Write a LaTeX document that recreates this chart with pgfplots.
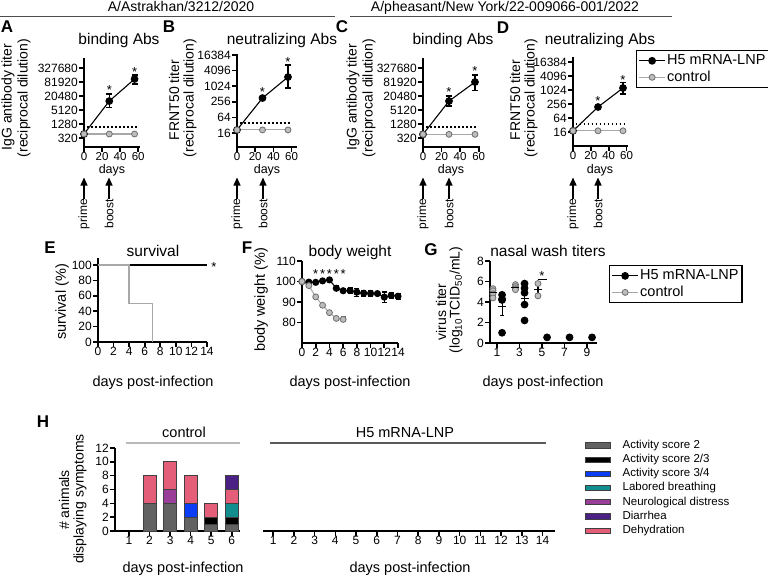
\documentclass[border=0pt]{standalone}
\usepackage{fontspec}
\setmainfont{Liberation Sans}
\usepackage{pgfplots}
\pgfplotsset{compat=1.18}
\usetikzlibrary{arrows.meta}

\newcommand\fs[1]{\fontsize{#1}{#1}\selectfont}

\definecolor{ctrlline}{HTML}{A8A8A8}
\definecolor{ctrlfill}{HTML}{BDBDBD}
\definecolor{ctrldraw}{HTML}{6E6E6E}
\definecolor{sActTwo}{HTML}{626262}
\definecolor{sActTT}{HTML}{000000}
\definecolor{sActTF}{HTML}{0B3DF5}
\definecolor{sLab}{HTML}{138E8E}
\definecolor{sNeuro}{HTML}{993F99}
\definecolor{sDiar}{HTML}{4B2185}
\definecolor{sDehyd}{HTML}{E55E79}

\tikzset{ast/.style={font=\fs{13}, inner sep=0pt, yshift=-2pt}}

\pgfplotsset{
  gp/.style={
    scale only axis, clip=false,
    axis lines*=left,
    axis line style={line width=1.6pt,-},
    tick style={line width=1.6pt, black},
    major tick length=5pt, tick align=outside,
    tick label style={font=\fs{12}},
    xticklabel style={inner sep=0pt, text height=8.6pt, text depth=0pt},
    yticklabel style={inner sep=1pt},
    /pgf/number format/assume math mode=true,
  },
  top/.style={xticklabel style={font=\fs{11.5}}},
  h5/.style={black, line width=1.1pt, mark=*, mark size=3.3pt, mark options={fill=black, solid}},
  ctl/.style={ctrlline, line width=1.1pt, mark=*, mark size=3pt,
    mark options={fill=ctrlfill, draw=ctrldraw, line width=0.8pt, solid}},
  eb/.style={error bars/y dir=both, error bars/y explicit,
    error bars/error bar style={line width=1.1pt, black},
    error bars/error mark options={rotate=90, mark size=3pt, line width=1.1pt, black}},
  lod/.style={black, line width=1.8pt, dash pattern=on 1.8pt off 2.2pt},
  gpleg/.style={
    legend image code/.code={\draw[mark repeat=2,mark phase=2,##1]
      plot coordinates {(0pt,0pt) (13pt,0pt) (26pt,0pt)};},
    legend style={draw=black, line width=1.2pt, font=\fs{14.5},
      anchor=north west, inner xsep=2pt, inner ysep=2pt, row sep=0pt,
      cells={anchor=west},
      nodes={inner sep=1.5pt, text height=10.5pt, text depth=3pt}},
  },
}

\begin{document}
\begin{tikzpicture}
\useasboundingbox (0pt,0pt) rectangle (768pt,-576pt);

% ---- A
\begin{axis}[gp, top, at={(84pt,-147pt)}, anchor=south west, width=56pt, height=89pt,
  xmin=0, xmax=62, xtick={0,20,40,60},
  ymode=log, ymin=131, ymax=882000,
  ytick={320,1280,5120,20480,81920,327680},
  yticklabels={320,1280,5120,20480,81920,327680}]
\addplot[h5, eb] coordinates {(0,475) (28,12400) += (0,12600) -= (0,6130) (56,110000) += (0,54000) -= (0,43000)};
\addplot[ctl] coordinates {(0,475) (28,475) (56,475)};
\addplot[lod] coordinates {(3,950) (59,950)};
\node[ast] at (axis cs:28,45000) {*};
\node[ast] at (axis cs:56,268000) {*};
\end{axis}

% ---- B
\begin{axis}[gp, top, at={(237pt,-147pt)}, anchor=south west, width=60pt, height=93pt,
  xmin=0, xmax=65.9, xtick={0,20,40,60},
  ymode=log, ymin=4.6, ymax=18000,
  ytick={16,64,256,1024,4096,16384},
  yticklabels={16,64,256,1024,4096,16384}]
\addplot[h5, eb] coordinates {(0,21) (28,358) (56,2320) += (0,4430) -= (0,1446)};
\addplot[ctl] coordinates {(0,21) (28,21) (56,21)};
\addplot[lod] coordinates {(3,40) (58,40)};
\node[ast] at (axis cs:28,730) {*};
\node[ast] at (axis cs:56,10500) {*};
\end{axis}

% ---- C
\begin{axis}[gp, top, at={(423pt,-147pt)}, anchor=south west, width=57pt, height=89pt,
  xmin=0, xmax=61.4, xtick={0,20,40,60},
  ymode=log, ymin=131, ymax=882000,
  ytick={320,1280,5120,20480,81920,327680},
  yticklabels={320,1280,5120,20480,81920,327680}]
\addplot[h5, eb] coordinates {(0,460) (28,12400) += (0,8100) -= (0,4800) (56,81500) += (0,82500) -= (0,44700)};
\addplot[ctl] coordinates {(0,460) (28,460) (56,460)};
\addplot[lod] coordinates {(3,950) (58,950)};
\node[ast] at (axis cs:28,37000) {*};
\node[ast] at (axis cs:56,297000) {*};
\end{axis}

% ---- D
\begin{axis}[gp, top, gpleg, at={(573pt,-146pt)}, anchor=south west, width=55pt, height=89pt,
  xmin=0, xmax=61.6, xtick={0,20,40,60},
  ymode=log, ymin=4, ymax=26900,
  ytick={16,64,256,1024,4096,16384},
  yticklabels={16,64,256,1024,4096,16384},
  legend style={at={(1.145,1.079)}}]
\addplot[h5, eb] coordinates {(0,18) (28,190) (56,1250) += (0,1000) -= (0,560)};
\addlegendentry{H5 mRNA-LNP}
\addplot[ctl] coordinates {(0,18) (28,18) (56,18)};
\addlegendentry{control}
\addplot[lod, forget plot] coordinates {(3,35) (58,35)};
\node[ast] at (axis cs:28,420) {*};
\node[ast] at (axis cs:56,3370) {*};
\end{axis}

% ---- E survival
\begin{axis}[gp, at={(98pt,-342pt)}, anchor=south west, width=109pt, height=84pt,
  xmin=0, xmax=14, ymin=0, ymax=109,
  xtick={0,2,...,14}, ytick={0,20,...,100}]
\addplot[black, line width=1.3pt] coordinates {(0,100) (14,100)};
\addplot[ctrlline, line width=1.3pt] coordinates {(0,100) (4,100) (4,50) (7,50) (7,0)};
\node[ast] at (axis cs:14.9,100) {*};
\end{axis}

% ---- F body weight
\begin{axis}[gp, at={(302pt,-343pt)}, anchor=south west, width=96pt, height=82pt,
  xmin=0, xmax=14, ymin=70, ymax=110,
  xtick={0,2,...,14}, ytick={80,90,100,110}]
\addplot[h5, mark size=3pt, eb, error bars/error mark options={rotate=90, mark size=2.5pt, line width=1.1pt, black}]
 coordinates {(0,100) (1,99.7) +- (0,0.5) (2,99.6) +- (0,0.5) (3,100.3) +- (0,0.5)
 (4,100.8) +- (0,0.5) (5,96.7) +- (0,1.2) (6,95.5) +- (0,1.0) (7,95.6) +- (0,1.5)
 (8,94.8) +- (0,2.0) (9,94.3) +- (0,1.5) (10,94.2) +- (0,1.5) (11,94.1) +- (0,1.0)
 (12,92.4) +- (0,2.5) (13,93.2) +- (0,1.5) (14,92.8) +- (0,1.5)};
\addplot[ctl, eb, error bars/error bar style={line width=1.1pt, ctrldraw}, error bars/error mark options={rotate=90, mark size=2.5pt, line width=1.1pt, ctrldraw}]
 coordinates {(0,100) (1,98) (2,92.5) (3,88.4) (4,84.8) (5,82) +- (0,0.8) (6,81.5) +- (0,1.2)};
\node[ast] at (axis cs:2,104.4) {*};
\node[ast] at (axis cs:3,104.4) {*};
\node[ast] at (axis cs:4,104.4) {*};
\node[ast] at (axis cs:5,104.4) {*};
\node[ast] at (axis cs:6,104.4) {*};
\end{axis}

% ---- G nasal wash
\begin{axis}[gp, gpleg, at={(490pt,-343pt)}, anchor=south west, width=107pt, height=82pt,
  xmin=0.378, xmax=9.89, ymin=0, ymax=8,
  xtick={1,3,5,7,9}, ytick={0,2,...,8},
  legend style={at={(1.112,0.951)}}]
\addlegendimage{h5}
\addlegendentry{H5 mRNA-LNP}
\addlegendimage{ctl}
\addlegendentry{control}
% individual animals, control (left of day) and H5 (right of day)
\addplot[ctl, only marks, forget plot] coordinates {(0.64,5.3) (0.64,5.1) (0.64,4.8) (0.64,4.4)
  (2.64,5.7) (2.64,5.5) (2.64,5.3) (2.64,5.2) (4.64,5.8) (4.64,4.6)};
\addplot[h5, only marks, forget plot] coordinates {(1.45,4.7) (1.45,4.3) (1.45,4.2) (1.45,1.0)
  (3.45,5.8) (3.45,5.35) (3.45,4.9) (3.45,3.75) (3.45,2.2)
  (5.45,0.55) (7.45,0.55) (9.45,0.55)};
% mean +- SEM
\addplot[black, only marks, mark=-, mark size=4pt, mark options={line width=1.1pt}, forget plot,
  error bars/.cd, y dir=both, y explicit, error bar style={line width=1.1pt, black},
  error mark options={rotate=90, mark size=2pt, line width=1.1pt, black}]
  coordinates {(0.64,4.9) +- (0,0.2) (2.64,5.4) +- (0,0.12) (4.64,5.2) +- (0,0.55)
  (1.45,3.55) +- (0,0.87) (3.45,4.3) +- (0,0.65)};
\draw[black, line width=1pt] (axis cs:4.6,6.2) -- (axis cs:5.45,6.2);
\node[ast] at (axis cs:5.0,6.7) {*};
\end{axis}

% ---- H control days
\begin{axis}[gp, at={(115pt,-531pt)}, anchor=south west, width=125pt, height=83pt,
  xmin=0.32, xmax=6.4, ymin=0, ymax=12,
  xtick={1,...,6}, ytick={0,2,...,12},
  ybar stacked, bar width=13pt,
  legend image code/.code={\draw[#1, line width=0.8pt] (0pt,-2.6pt) rectangle (25pt,2.6pt);},
  legend style={at={(3.736,1.1446)}, anchor=north west, draw=none, font=\fs{11.5},
    cells={anchor=west}, column sep=10pt, row sep=0pt,
    nodes={inner sep=1.6pt, text height=8.5pt, text depth=2.5pt}},
  every axis plot/.append style={draw=black!75, line width=0.8pt}]
\addplot[fill=sActTwo, forget plot] coordinates {(2,4) (3,4) (4,2) (5,1) (6,1)};
\addplot[fill=sActTT, forget plot] coordinates {(2,0) (3,0) (4,0) (5,1) (6,1)};
\addplot[fill=sActTF, forget plot] coordinates {(2,0) (3,0) (4,2) (5,0) (6,0)};
\addplot[fill=sLab, forget plot] coordinates {(2,0) (3,0) (4,0) (5,0) (6,2)};
\addplot[fill=sNeuro, forget plot] coordinates {(2,0) (3,2) (4,0) (5,0) (6,0)};
\addplot[fill=sDehyd, forget plot] coordinates {(2,4) (3,4) (4,4) (5,2) (6,2)};
\addplot[fill=sDiar, forget plot] coordinates {(2,0) (3,0) (4,0) (5,0) (6,2)};
\addlegendimage{fill=sActTwo, draw=black!75}
\addlegendentry{Activity score 2}
\addlegendimage{fill=sActTT, draw=black!75}
\addlegendentry{Activity score 2/3}
\addlegendimage{fill=sActTF, draw=black!75}
\addlegendentry{Activity score 3/4}
\addlegendimage{fill=sLab, draw=black!75}
\addlegendentry{Labored breathing}
\addlegendimage{fill=sNeuro, draw=black!75}
\addlegendentry{Neurological distress}
\addlegendimage{fill=sDiar, draw=black!75}
\addlegendentry{Diarrhea}
\addlegendimage{fill=sDehyd, draw=black!75}
\addlegendentry{Dehydration}
\end{axis}

% ---- H H5 mRNA-LNP days (no symptoms)
\begin{axis}[gp, at={(263pt,-531pt)}, anchor=south west, width=292pt, height=83pt,
  xmin=0.51, xmax=14.6, ymin=0, ymax=12,
  axis y line=none, xtick={1,...,14}]
\addplot[draw=none, forget plot] coordinates {(1,0) (14,0)};
\end{axis}

% ---- text and annotations
\begin{scope}[x=1pt, y=-1pt]
  % headers
  \node[font=\fs{14}, anchor=base] at (181,11.5) {A/Astrakhan/3212/2020};
  \draw[black!70, line width=0.9pt] (0,16) -- (335,16);
  \node[font=\fs{14}, anchor=base] at (505,11.5) {A/pheasant/New York/22-009066-001/2022};
  \draw[black!70, line width=0.9pt] (350,16) -- (672,16);
  % panel letters
  \foreach \l/\x/\y in {A/7/27, B/169/27, C/342/27, D/503/28, E/50/248, F/247/248, G/431/250, H/43/422}
    \node[font=\fs{17}\bfseries] at (\x,\y) {\l};
  % titles
  \foreach \t/\x/\y in {binding Abs/119/44.5, neutralizing Abs/282/44.5, binding Abs/453/44.5,
      neutralizing Abs/600/44.5, survival/153/256, body weight/350/256, nasal wash titers/548/256}
    \node[font=\fs{15.5}, anchor=base] at (\x,\y) {\t};
  % y labels row 1
  \node[font=\fs{14}, rotate=90] at (8,97) {IgG antibody titer};
  \node[font=\fs{14}, rotate=90] at (24,98) {(reciprocal dilution)};
  \node[font=\fs{14}, rotate=90] at (174,100) {FRNT50 titer};
  \node[font=\fs{14}, rotate=90] at (190,98) {(reciprocal dilution)};
  \node[font=\fs{14}, rotate=90] at (353,97) {IgG antibody titer};
  \node[font=\fs{14}, rotate=90] at (369,98) {(reciprocal dilution)};
  \node[font=\fs{14}, rotate=90] at (515,100) {FRNT50 titer};
  \node[font=\fs{14}, rotate=90] at (531,98) {(reciprocal dilution)};
  % x labels row 1
  \foreach \x in {112,267,451,600}
    \node[font=\fs{12.5}, anchor=base, inner sep=0pt] at (\x,173.5) {days};
  % prime / boost
  \foreach \x/\t in {84/prime, 109/boost, 237/prime, 263/boost, 423/prime, 449/boost, 573/prime, 598/boost} {
    \draw[-{Triangle[width=7pt,length=8pt]}, line width=1.2pt] (\x,199) -- (\x,177.5);
    \node[font=\fs{12}, rotate=90, anchor=east, inner sep=1pt] at (\x,198) {\t};
  }
  % y labels row 2
  \node[font=\fs{14.5}, rotate=90] at (62,302) {survival (\%)};
  \node[font=\fs{14.5}, rotate=90] at (261,300) {body weight (\%)};
  \node[font=\fs{14}, rotate=90] at (441,312) {virus titer};
  \node[font=\fs{14}, rotate=90] at (456,300) {(log\textsubscript{10}TCID\textsubscript{50}/mL)};
  % x labels row 2
  \foreach \x in {153,350,543}
    \node[font=\fs{14.5}, anchor=base] at (\x,386) {days post-infection};
  % H panel
  \node[font=\fs{14}, rotate=90] at (64,500) {\# animals};
  \node[font=\fs{14}, rotate=90] at (80,499) {displaying symptoms};
  \node[font=\fs{14.5}, anchor=base] at (184,437) {control};
  \draw[ctrlline!80, line width=1.2pt] (126,443) -- (240,443);
  \node[font=\fs{14.5}, anchor=base] at (405,437) {H5 mRNA-LNP};
  \draw[black!65, line width=1.2pt] (270,443) -- (546,443);
  \node[font=\fs{14.5}, anchor=base] at (183,572) {days post-infection};
  \node[font=\fs{14.5}, anchor=base] at (410,572) {days post-infection};
\end{scope}
\end{tikzpicture}
\end{document}
